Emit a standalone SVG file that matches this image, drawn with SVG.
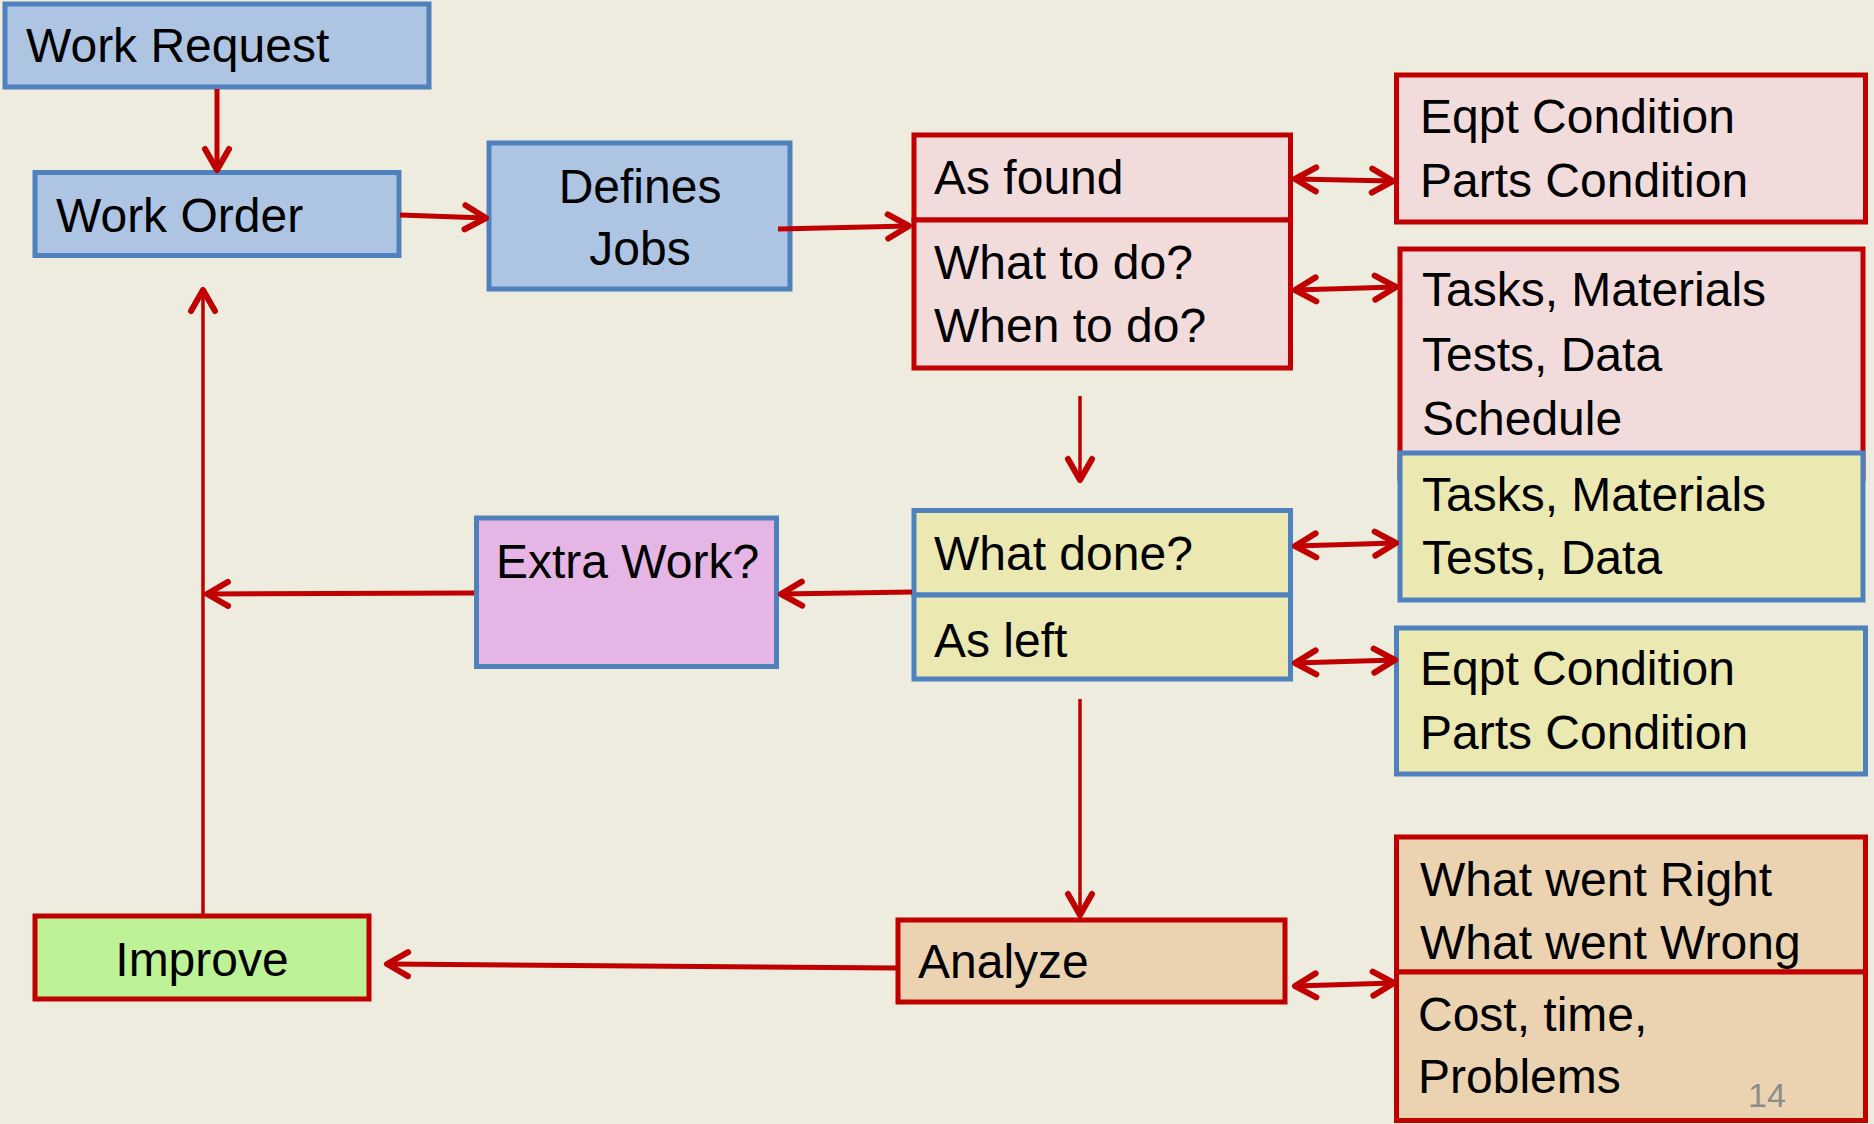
<svg xmlns="http://www.w3.org/2000/svg" width="1874" height="1124" viewBox="0 0 1874 1124">
<defs>
<style>
.t{font-family:"Liberation Sans",Arial,sans-serif;font-size:48px;fill:#000}
.blue{stroke:#4F81BD;stroke-width:5}
.red{stroke:#C00000;stroke-width:5}
.fb{fill:#ADC5E3}
.fp{fill:#F2DCDB}
.fy{fill:#EBE9B1}
.fm{fill:#E5B5E5}
.fg{fill:#BDF296}
.ft{fill:#EBD3B1}
.c{stroke:#C00000;fill:none;stroke-width:5}
.thin{stroke-width:3.5}
</style>
<marker id="ah" markerUnits="userSpaceOnUse" orient="auto-start-reverse" refX="0" refY="0" markerWidth="40" markerHeight="40" viewBox="-30 -20 40 40" overflow="visible">
<path d="M-21,-12 L0,0 L-21,12" fill="none" stroke="#C00000" stroke-width="6" stroke-linecap="round" stroke-linejoin="round"/>
</marker>
</defs>
<rect width="1874" height="1124" fill="#EEEBDF"/>

<g id="work-request"><rect x="5" y="4" width="424" height="83" class="fb blue"/><text class="t" x="26" y="62">Work Request</text></g>
<g id="work-order"><rect x="35" y="172.5" width="364" height="83" class="fb blue"/><text class="t" x="56" y="232">Work Order</text></g>
<g id="defines-jobs"><rect x="489" y="143" width="301" height="146" class="fb blue"/><text class="t" x="640" y="203" text-anchor="middle">Defines</text><text class="t" x="640" y="265" text-anchor="middle">Jobs</text></g>
<g id="as-found"><rect x="914" y="135" width="376.5" height="85" class="fp red"/><text class="t" x="934" y="194">As found</text></g>
<g id="what-to-do"><rect x="914" y="220" width="376.5" height="148" class="fp red"/><text class="t" x="934" y="279">What to do?</text><text class="t" x="934" y="342">When to do?</text></g>
<g id="found-conditions"><rect x="1396.5" y="75" width="469" height="147" class="fp red"/><text class="t" x="1420" y="133">Eqpt Condition</text><text class="t" x="1420" y="197">Parts Condition</text></g>
<g id="plan-details"><rect x="1400" y="249" width="463" height="230" class="fp red"/><text class="t" x="1422" y="306">Tasks, Materials</text><text class="t" x="1422" y="371">Tests, Data</text><text class="t" x="1422" y="435">Schedule</text></g>
<g id="done-details"><rect x="1400" y="453" width="463" height="147" class="fy blue"/><text class="t" x="1422" y="511">Tasks, Materials</text><text class="t" x="1422" y="574">Tests, Data</text></g>
<g id="what-done"><rect x="914" y="510.5" width="376.5" height="84.5" class="fy blue"/><text class="t" x="934" y="570">What done?</text></g>
<g id="as-left"><rect x="914" y="595" width="376.5" height="84" class="fy blue"/><text class="t" x="934" y="657">As left</text></g>
<g id="left-conditions"><rect x="1396.5" y="628" width="469" height="146" class="fy blue"/><text class="t" x="1420" y="685">Eqpt Condition</text><text class="t" x="1420" y="749">Parts Condition</text></g>
<g id="extra-work"><rect x="476.5" y="518" width="300" height="148.5" class="fm blue"/><text class="t" x="496" y="578">Extra Work?</text></g>
<g id="improve"><rect x="35" y="916" width="334" height="83" class="fg red"/><text class="t" x="202" y="976" text-anchor="middle">Improve</text></g>
<g id="analyze"><rect x="898" y="920" width="387" height="82" class="ft red"/><text class="t" x="918" y="978">Analyze</text></g>
<g id="right-wrong"><rect x="1396.5" y="837" width="469" height="135" class="ft red"/><text class="t" x="1420" y="896">What went Right</text><text class="t" x="1420" y="959">What went Wrong</text></g>
<g id="cost-time"><rect x="1396.5" y="972" width="469" height="148.5" class="ft red"/><text class="t" x="1418" y="1031">Cost, time,</text><text class="t" x="1418" y="1093">Problems</text></g>
<text x="1748" y="1107" font-family="'Liberation Sans',Arial,sans-serif" font-size="34" fill="#8C8C8C">14</text>

<g id="connectors">
<line x1="217" y1="89" x2="217" y2="170" class="c" marker-end="url(#ah)"/>
<line x1="400" y1="215" x2="486" y2="218" class="c" marker-end="url(#ah)"/>
<line x1="778" y1="229" x2="909" y2="226" class="c" marker-end="url(#ah)"/>
<line x1="1295" y1="179" x2="1393" y2="181" class="c" marker-start="url(#ah)" marker-end="url(#ah)"/>
<line x1="1295" y1="290" x2="1396" y2="287" class="c" marker-start="url(#ah)" marker-end="url(#ah)"/>
<line x1="1080" y1="396" x2="1080" y2="480" class="c thin" marker-end="url(#ah)"/>
<line x1="1295" y1="546" x2="1396" y2="543" class="c" marker-start="url(#ah)" marker-end="url(#ah)"/>
<line x1="912" y1="592" x2="781" y2="594" class="c" marker-end="url(#ah)"/>
<line x1="474" y1="593" x2="207" y2="594" class="c" marker-end="url(#ah)"/>
<line x1="203" y1="914" x2="203" y2="290" class="c thin" marker-end="url(#ah)"/>
<line x1="1295" y1="663" x2="1395" y2="660" class="c" marker-start="url(#ah)" marker-end="url(#ah)"/>
<line x1="1080" y1="699" x2="1080" y2="915" class="c thin" marker-end="url(#ah)"/>
<line x1="896" y1="968" x2="387" y2="964" class="c" marker-end="url(#ah)"/>
<line x1="1295" y1="986" x2="1394" y2="983" class="c" marker-start="url(#ah)" marker-end="url(#ah)"/>
</g>
</svg>
